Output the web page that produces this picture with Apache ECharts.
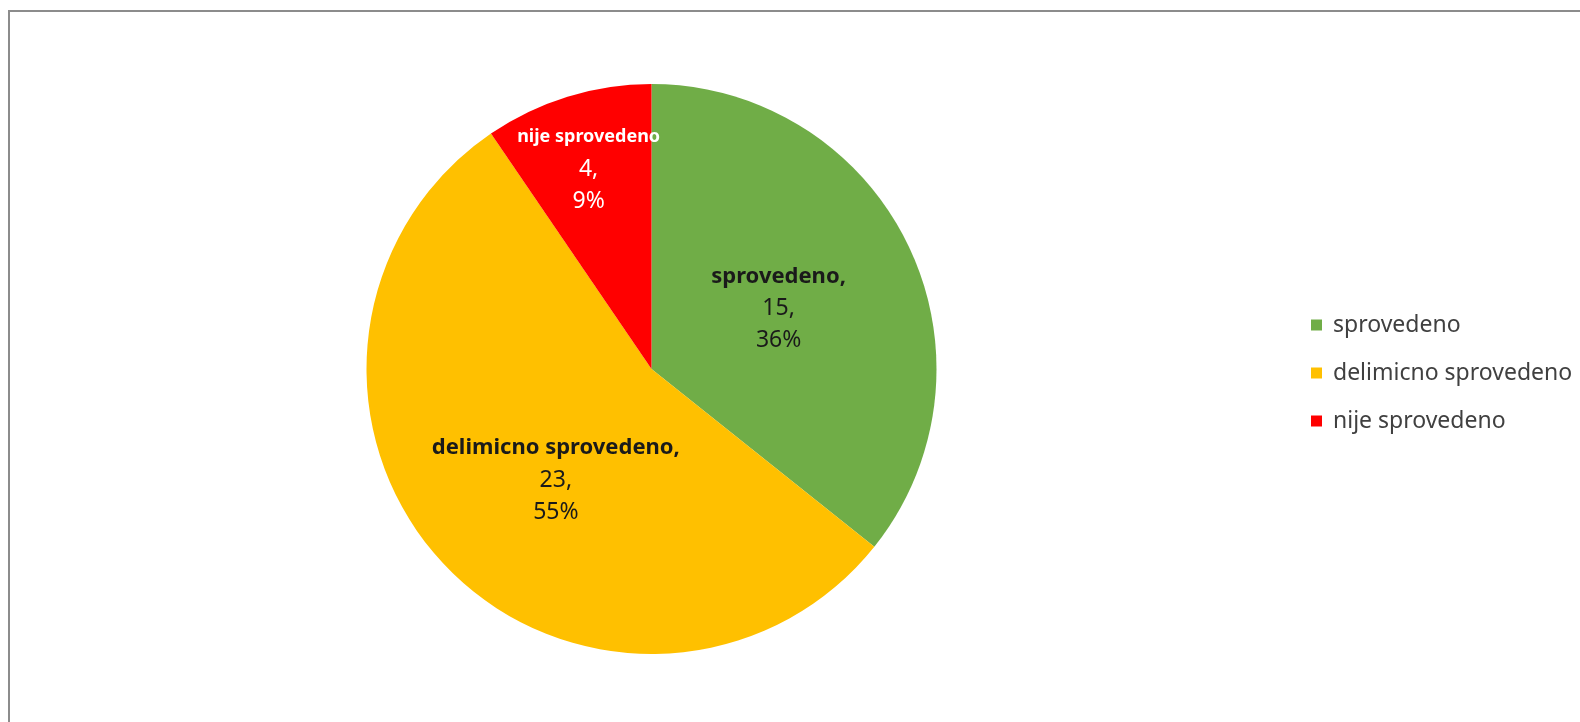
<!DOCTYPE html>
<html>
<head>
<meta charset="utf-8">
<script src="https://cdn.jsdelivr.net/npm/echarts@6/dist/echarts.min.js"></script>
<style>
html,body{margin:0;padding:0;background:#fff;}
#chart{position:absolute;left:0;top:0;width:1580px;height:722px;}
#frame{position:absolute;left:8px;top:10px;width:1600px;height:800px;border-top:2px solid #8c8c8c;border-left:2px solid #8c8c8c;pointer-events:none;}
</style>
</head>
<body>
<div id="chart"></div>
<div id="frame"></div>
<script>
const categories = ['sprovedeno', 'delimicno sprovedeno', 'nije sprovedeno'];
const values = [15, 23, 4];
const colors = ['#70AD47', '#FFC000', '#FF0000'];
const labelColors = ['#1a1a1a', '#1a1a1a', '#ffffff'];
const nameSuffix = [',', ',', ''];
const nameFontSizes = [22, 22, 18];
const labelOffsets = [[-4, 3], [11, 12], [-20, -61]];

const chart = echarts.init(document.getElementById('chart'), null, {renderer: 'canvas'});
const font = '"Noto Sans", "Open Sans", sans-serif';

const data = categories.map((c, i) => ({
  name: c,
  value: values[i],
  itemStyle: {color: colors[i]},
  label: {
    color: labelColors[i],
    offset: labelOffsets[i],
    formatter: p => '{b|' + p.name + nameSuffix[i] + '}\n{n|' + p.value + ',}\n{n|' + p.percent + '%}',
    rich: {
      b: {fontWeight: 'bold', color: labelColors[i], fontSize: nameFontSizes[i], fontFamily: font, lineHeight: 32},
      n: {color: labelColors[i], fontSize: 23, fontFamily: font, lineHeight: 32}
    }
  }
}));

chart.setOption({
  animation: false,
  backgroundColor: '#ffffff',
  legend: {
    orient: 'vertical',
    left: 1306,
    top: 306,
    itemWidth: 11,
    itemHeight: 11,
    itemGap: 20,
    icon: 'rect',
    data: categories,
    textStyle: {fontFamily: font, fontSize: 23, color: '#404040', lineHeight: 28, padding: [0, 0, 0, 6]}
  },
  series: [{
    type: 'pie',
    center: [651.5, 369],
    radius: [0, 285],
    startAngle: 90,
    clockwise: true,
    percentPrecision: 0,
    avoidLabelOverlap: false,
    label: {
      show: true,
      position: 'inside',
      fontFamily: font,
      fontSize: 22,
      lineHeight: 32,
      align: 'center'
    },
    labelLine: {show: false},
    emphasis: {disabled: true},
    itemStyle: {borderWidth: 0},
    data: data
  }]
});
</script>
</body>
</html>
